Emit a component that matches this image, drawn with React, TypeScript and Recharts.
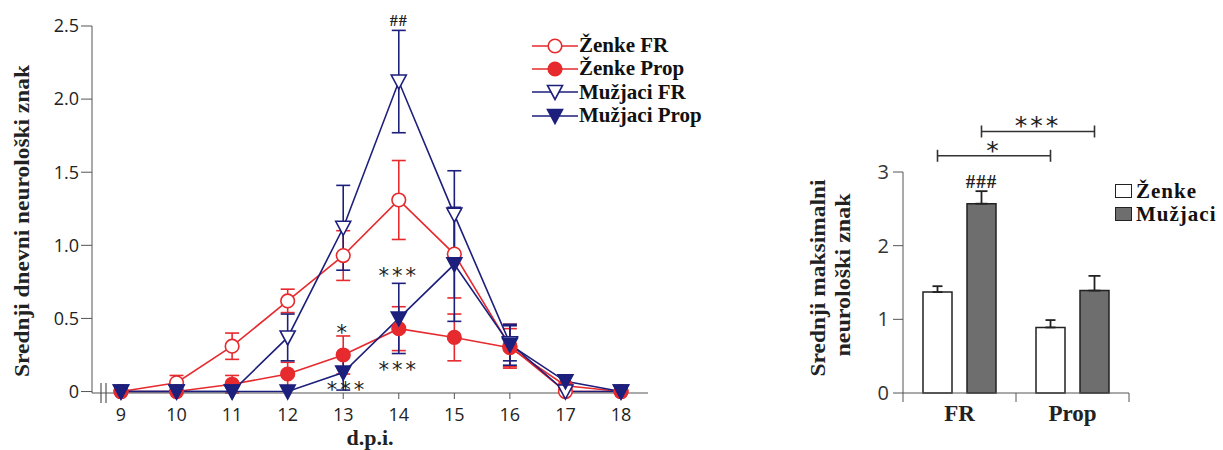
import React from 'react';
import { LineChart, Line, XAxis, YAxis, ErrorBar, ReferenceDot, BarChart, Bar } from 'recharts';

const RED = '#e62a2d';
const NAVY = '#1d1f7c';
const INK = '#222';
const AXIS = '#555';
const SERIF = '"Liberation Serif", "Times New Roman", serif';
const SANS = '"Open Sans", "DejaVu Sans", sans-serif';
const STAR = '"DejaVu Sans", sans-serif';

// daily neurological score, d.p.i. 9-18
const days = [9, 10, 11, 12, 13, 14, 15, 16, 17, 18];
const zenkeFR = [0, 0.06, 0.31, 0.62, 0.93, 1.31, 0.94, 0.31, 0, 0];
const zenkeFRErr = [0, 0.05, 0.09, 0.08, 0.17, 0.27, 0.3, 0.15, 0, 0];
const zenkeProp = [0, 0, 0.05, 0.12, 0.25, 0.43, 0.37, 0.3, 0.04, 0];
const zenkePropErr = [0, 0, 0.06, 0.08, 0.13, 0.15, 0.16, 0.13, 0, 0];
const muzjaciFR = [0, 0, 0, 0.37, 1.12, 2.12, 1.21, 0.33, 0, 0];
const muzjaciFRErr = [0, 0, 0, 0.16, 0.29, 0.35, 0.3, 0.12, 0, 0];
const muzjaciProp = [0, 0, 0, 0, 0.13, 0.5, 0.87, 0.32, 0.07, 0];
const muzjaciPropErr = [0, 0, 0, 0, 0.12, 0.24, 0.39, 0.14, 0.04, 0];
const yTicksLeft = [0, 0.5, 1, 1.5, 2, 2.5];

// significance marks on the daily chart
const lineMarks = [
  { day: 14, y: 2.54, text: '##', hash: true },
  { day: 13, y: 0.43, text: '*' },
  { day: 14, y: 0.82, text: '***' },
  { day: 14, y: 0.18, text: '***' },
  { day: 13.07, y: 0.04, text: '***' },
];

// maximal score
const groups = ['FR', 'Prop'];
const zenkeMax = [1.37, 0.89];
const zenkeMaxErr = [0.08, 0.1];
const muzjaciMax = [2.57, 1.39];
const muzjaciMaxErr = [0.17, 0.2];
const yTicksRight = [0, 1, 2, 3];

const lineRows = days.map((d, i) => ({
  day: d,
  zf: zenkeFR[i], zfErr: zenkeFRErr[i],
  zp: zenkeProp[i], zpErr: zenkePropErr[i],
  mf: muzjaciFR[i], mfErr: muzjaciFRErr[i],
  mp: muzjaciProp[i], mpErr: muzjaciPropErr[i],
}));

const barRows = groups.map((g, i) => ({
  group: g,
  z: zenkeMax[i], zErr: [0, zenkeMaxErr[i]],
  m: muzjaciMax[i], mErr: [0, muzjaciMaxErr[i]],
}));

const series = [
  { key: 'zf', name: 'Ženke FR', color: RED, shape: 'circle', filled: false },
  { key: 'zp', name: 'Ženke Prop', color: RED, shape: 'circle', filled: true },
  { key: 'mf', name: 'Mužjaci FR', color: NAVY, shape: 'tri', filled: false },
  { key: 'mp', name: 'Mužjaci Prop', color: NAVY, shape: 'tri', filled: true },
];

const Marker = ({ cx, cy, shape, filled, color }: any) => {
  if (cx == null || cy == null) return null;
  const fill = filled ? color : '#fff';
  if (shape === 'circle') {
    return <circle cx={cx} cy={cy} r={6.8} fill={fill} stroke={color} strokeWidth={1.6} />;
  }
  return (
    <polygon
      points={`${cx - 7.5},${cy - 6.5} ${cx + 7.5},${cy - 6.5} ${cx},${cy + 7.5}`}
      fill={fill}
      stroke={color}
      strokeWidth={1.6}
    />
  );
};

const starText = (cx: number, cy: number, text: string, size: number, hash?: boolean) => (
  <text
    x={cx}
    y={hash ? cy + size * 0.36 : cy + size * 0.56}
    textAnchor="middle"
    fontFamily={hash ? SERIF : STAR}
    fontWeight={hash ? 'bold' : 'normal'}
    fontSize={size}
    letterSpacing={hash ? 1 : 3}
    fill={INK}
  >
    {text}
  </text>
);

// right chart geometry (for the brackets)
const BAR_SIZE = 29;
const BAR_GAP = 15;
const BAND = 113;
const HALF_GROUP = (BAR_SIZE + BAR_GAP) / 2;

const Bracket = ({ cx, cy, text, size }: any) => {
  if (cx == null || cy == null) return null;
  return (
    <g>
      <line x1={cx} y1={cy} x2={cx + BAND} y2={cy} stroke="#333" strokeWidth={1.6} />
      <line x1={cx} y1={cy - 6} x2={cx} y2={cy + 6} stroke="#333" strokeWidth={1.6} />
      <line x1={cx + BAND} y1={cy - 6} x2={cx + BAND} y2={cy + 6} stroke="#333" strokeWidth={1.6} />
      {starText(cx + BAND / 2, cy - 11, text, size)}
    </g>
  );
};

const GroupTick = ({ x, y, payload, index }: any) => (
  <g>
    {index === 0 && <line x1={x - BAND / 2} y1={y} x2={x - BAND / 2} y2={y + 9} stroke={AXIS} />}
    <line x1={x + BAND / 2} y1={y} x2={x + BAND / 2} y2={y + 9} stroke={AXIS} />
    <text x={x} y={y + 28} textAnchor="middle" fontFamily={SERIF} fontWeight="bold" fontSize={23} fill={INK}>
      {payload.value}
    </text>
  </g>
);

const legendText: React.CSSProperties = { fontFamily: SERIF, fontWeight: 'bold', color: '#111' };

export default function App() {
  return (
    <div style={{ position: 'absolute', left: 0, top: 0, width: 1223, height: 450, background: '#fff' }}>
      <div style={{ position: 'absolute', left: 0, top: 0 }}>
        <LineChart width={700} height={450} data={lineRows} margin={{ top: 26, right: 52, bottom: 0, left: 8 }}>
          <XAxis
            type="number"
            dataKey="day"
            domain={[8.478, 18.486]}
            ticks={days}
            allowDataOverflow
            stroke={AXIS}
            tickSize={6}
            tickMargin={9}
            height={57}
            tick={{ fontSize: 18, fill: INK, fontFamily: SANS }}
            label={{
              content: (p: any) => (
                <text
                  x={p.viewBox.x + p.viewBox.width / 2}
                  y={445}
                  textAnchor="middle"
                  fontFamily={SERIF}
                  fontWeight="bold"
                  fontSize={22}
                  fill={INK}
                >
                  d.p.i.
                </text>
              ),
            }}
          />
          <YAxis
            domain={[0, 2.5]}
            ticks={yTicksLeft}
            width={84}
            stroke={AXIS}
            tickSize={11}
            tickMargin={2}
            tick={{ fontSize: 18, fill: INK, fontFamily: SANS }}
            tickFormatter={(v: number) => (v === 0 ? '0' : v.toFixed(1))}
            label={{
              content: () => (
                <text
                  x={22}
                  y={221}
                  transform="rotate(-90 22 221)"
                  textAnchor="middle"
                  dominantBaseline="central"
                  fontFamily={SERIF}
                  fontWeight="bold"
                  fontSize={21}
                  textLength={312}
                  lengthAdjust="spacingAndGlyphs"
                  fill={INK}
                >
                  Srednji dnevni neurološki znak
                </text>
              ),
            }}
          />
          {series.map((s) => (
            <Line
              key={s.key}
              dataKey={s.key}
              name={s.name}
              stroke={s.color}
              strokeWidth={1.6}
              isAnimationActive={false}
              dot={(p: any) => (
                <Marker key={`${s.key}-${p.index}`} cx={p.cx} cy={p.cy} shape={s.shape} filled={s.filled} color={s.color} />
              )}
              activeDot={false}
            >
              <ErrorBar dataKey={`${s.key}Err`} width={7} stroke={s.color} strokeWidth={1.6} />
            </Line>
          ))}
          {lineMarks.map((m, i) => (
            <ReferenceDot
              key={`mark-${i}`}
              x={m.day}
              y={m.y}
              r={0}
              ifOverflow="visible"
              shape={(p: any) => starText(p.cx, p.cy, m.text, m.hash ? 16 : 21, m.hash)}
            />
          ))}
        </LineChart>
      </div>

      <svg style={{ position: 'absolute', left: 0, top: 0 }} width={140} height={450}>
        <line x1={101} y1={383} x2={101} y2={403} stroke={AXIS} strokeWidth={1.2} />
        <line x1={106} y1={383} x2={106} y2={403} stroke={AXIS} strokeWidth={1.2} />
      </svg>

      <div style={{ position: 'absolute', left: 532, top: 34, ...legendText, fontSize: 21 }}>
        {series.map((s) => (
          <div key={s.key} style={{ display: 'flex', alignItems: 'center', height: 23.3 }}>
            <svg width={46} height={20}>
              <line x1={0} y1={10} x2={46} y2={10} stroke={s.color} strokeWidth={1.6} />
              <Marker cx={23} cy={10} shape={s.shape} filled={s.filled} color={s.color} />
            </svg>
            <span style={{ display: 'block', marginLeft: 1, lineHeight: '23px', height: 23 }}>{s.name}</span>
          </div>
        ))}
      </div>

      <div style={{ position: 'absolute', left: 780, top: 0 }}>
        <BarChart
          width={443}
          height={450}
          data={barRows}
          margin={{ top: 172, right: 94, bottom: 0, left: 0 }}
          barSize={BAR_SIZE}
          barGap={BAR_GAP}
        >
          <XAxis
            dataKey="group"
            stroke={AXIS}
            tickLine={false}
            tickSize={0}
            tickMargin={0}
            height={57}
            tick={(p: any) => <GroupTick {...p} />}
          />
          <YAxis
            domain={[0, 3]}
            ticks={yTicksRight}
            width={123}
            stroke={AXIS}
            tickSize={10}
            tickMargin={4}
            tick={{ fontSize: 20, fill: '#333', fontFamily: SANS }}
            label={{
              content: () => (
                <g fontFamily={SERIF} fontWeight="bold" fontSize={20} fill={INK}>
                  <text
                    x={38}
                    y={278}
                    transform="rotate(-90 38 278)"
                    textAnchor="middle"
                    dominantBaseline="central"
                    textLength={197}
                    lengthAdjust="spacingAndGlyphs"
                  >
                    Srednji maksimalni
                  </text>
                  <text
                    x={63}
                    y={275}
                    transform="rotate(-90 63 275)"
                    textAnchor="middle"
                    dominantBaseline="central"
                    textLength={163}
                    lengthAdjust="spacingAndGlyphs"
                  >
                    neurološki znak
                  </text>
                </g>
              ),
            }}
          />
          <Bar dataKey="z" name="Ženke" fill="#fff" stroke={INK} strokeWidth={1.5} isAnimationActive={false}>
            <ErrorBar dataKey="zErr" width={5} stroke={INK} strokeWidth={1.8} />
          </Bar>
          <Bar dataKey="m" name="Mužjaci" fill="#6e6e6e" stroke={INK} strokeWidth={1.5} isAnimationActive={false}>
            <ErrorBar dataKey="mErr" width={6} stroke={INK} strokeWidth={1.8} />
          </Bar>
          <ReferenceDot
            x="FR"
            y={3.22}
            r={0}
            ifOverflow="visible"
            shape={(p: any) => <Bracket cx={p.cx - HALF_GROUP} cy={p.cy} text="*" size={25} />}
          />
          <ReferenceDot
            x="FR"
            y={3.55}
            r={0}
            ifOverflow="visible"
            shape={(p: any) => <Bracket cx={p.cx + HALF_GROUP} cy={p.cy} text="***" size={25} />}
          />
          <ReferenceDot
            x="FR"
            y={2.88}
            r={0}
            ifOverflow="visible"
            shape={(p: any) => starText(p.cx + HALF_GROUP, p.cy, '###', 19, true)}
          />
        </BarChart>
      </div>

      <div style={{ position: 'absolute', left: 1115, top: 179, ...legendText, fontSize: 21 }}>
        {[
          { name: 'Ženke', fill: '#fff' },
          { name: 'Mužjaci', fill: '#6e6e6e' },
        ].map((g) => (
          <div key={g.name} style={{ display: 'flex', alignItems: 'center', height: 23 }}>
            <div style={{ width: 15, height: 12, border: `1.5px solid ${INK}`, background: g.fill }} />
            <span style={{ display: 'block', marginLeft: 4, lineHeight: '20px', height: 20, letterSpacing: 1 }}>
              {g.name}
            </span>
          </div>
        ))}
      </div>
    </div>
  );
}
